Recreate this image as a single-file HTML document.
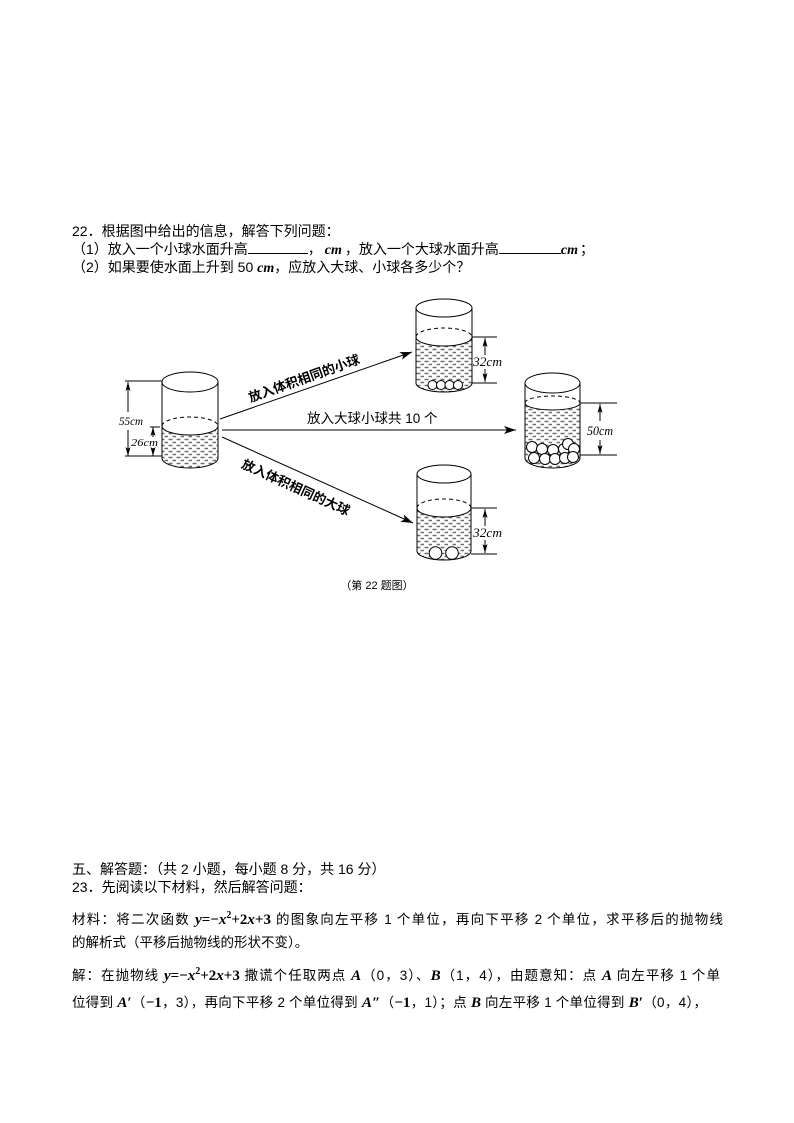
<!DOCTYPE html>
<html><head><meta charset="utf-8">
<style>
html,body{margin:0;padding:0;background:#fff;}
body{width:794px;height:1123px;position:relative;overflow:hidden;font-family:"Liberation Sans","Noto Sans CJK SC",sans-serif;color:#000;}
.t{position:absolute;left:72px;font-size:14px;line-height:18px;white-space:nowrap;}
.j{position:absolute;left:72px;font-size:13.5px;line-height:18px;white-space:normal;text-align:justify;text-align-last:justify;}
.m{font-family:"Liberation Serif",serif;font-weight:bold;font-size:15px;}
.m i{font-style:italic;}
.cm{font-family:"Liberation Serif",serif;font-weight:bold;font-style:italic;font-size:14px;}
.u{display:inline-block;border-bottom:1px solid #000;height:12px;vertical-align:baseline;}
</style></head><body>

<div class="t" style="top:222px">22．根据图中给出的信息，解答下列问题：</div>
<div class="t" style="top:240px">（1）放入一个小球水面升高<span class="u" style="width:60px"></span>，<span class="cm" style="margin:0 3px">cm</span>，放入一个大球水面升高<span class="u" style="width:62px"></span><span class="cm" style="margin-right:2px">cm</span>；</div>
<div class="t" style="top:258px">（2）如果要使水面上升到 50 <span class="cm">cm</span>，应放入大球、小球各多少个？</div>

<svg width="794" height="1123" style="position:absolute;left:0;top:0" xmlns="http://www.w3.org/2000/svg">
<defs>
<pattern id="w" width="8" height="6" patternUnits="userSpaceOnUse"><path d="M0.5 1.5h4M4.5 4.5h4" stroke="#707070" stroke-width="1.4"/></pattern>
<marker id="ar" markerWidth="12" markerHeight="8" refX="12" refY="4" orient="auto" markerUnits="userSpaceOnUse"><path d="M0,0 L12,4 L0,8 L3,4Z" fill="#000"/></marker>
<marker id="sa" markerWidth="9" markerHeight="6" refX="9" refY="3" orient="auto" markerUnits="userSpaceOnUse"><path d="M0,0.5 L9,3 L0,5.5 L2,3Z" fill="#000"/></marker>
</defs>
<g fill="none" stroke="#000" stroke-width="1">
<!-- left cylinder -->
<path d="M162,426 A28,9 0 0 0 218,426 L218,458 A28,10 0 0 1 162,458 Z" fill="url(#w)" stroke="none"/>
<ellipse cx="190" cy="382" rx="28" ry="10"/>
<path d="M162,382 V458 M218,382 V458"/>
<path d="M162,458 A28,10 0 0 0 218,458"/>
<path d="M162,426 A28,9 0 0 1 218,426" stroke-dasharray="4,3"/>
<path d="M162,426 A28,9 0 0 0 218,426"/>
<!-- 55cm dim -->
<path d="M125,381 H162 M125,456 H162 M150,427 H160"/>
<path d="M128,412 V382" marker-end="url(#sa)"/>
<path d="M128,430 V456" marker-end="url(#sa)"/>
<path d="M153,437 V427" marker-end="url(#sa)"/>
<path d="M153,448 V456" marker-end="url(#sa)"/>

<!-- top right cylinder -->
<path d="M416,337 A28,9 0 0 0 472,337 L472,383 A28,9 0 0 1 416,383 Z" fill="url(#w)" stroke="none"/>
<ellipse cx="444" cy="308" rx="28" ry="9"/>
<path d="M416,308 V383 M472,308 V383"/>
<path d="M416,383 A28,9 0 0 0 472,383"/>
<path d="M416,337 A28,9 0 0 1 472,337" stroke-dasharray="4,3"/>
<path d="M416,337 A28,9 0 0 0 472,337"/>
<g fill="#fff"><circle cx="432.5" cy="385" r="4.5"/><circle cx="441" cy="385" r="4.5"/><circle cx="449.5" cy="385" r="4.5"/><circle cx="458" cy="385" r="4.5"/></g>
<path d="M472,337 H497 M472,383 H497"/>
<path d="M485,355 V338" marker-end="url(#sa)"/>
<path d="M485,369 V382" marker-end="url(#sa)"/>

<!-- bottom right cylinder -->
<path d="M417,508 A27,9 0 0 0 471,508 L471,551 A27,9 0 0 1 417,551 Z" fill="url(#w)" stroke="none"/>
<ellipse cx="444" cy="474" rx="27" ry="9"/>
<path d="M417,474 V551 M471,474 V551"/>
<path d="M417,551 A27,9 0 0 0 471,551"/>
<path d="M417,508 A27,9 0 0 1 471,508" stroke-dasharray="4,3"/>
<path d="M417,508 A27,9 0 0 0 471,508"/>
<g fill="#fff"><circle cx="435.5" cy="553" r="6.3"/><circle cx="452" cy="553" r="6.3"/></g>
<path d="M471,508 H497 M471,554 H497"/>
<path d="M485,526 V509" marker-end="url(#sa)"/>
<path d="M485,540 V553" marker-end="url(#sa)"/>

<!-- right cylinder -->
<path d="M525,403 A27.5,7 0 0 0 580,403 L580,458 A27.5,10 0 0 1 525,458 Z" fill="url(#w)" stroke="none"/>
<ellipse cx="552.5" cy="383" rx="27.5" ry="10"/>
<path d="M525,383 V458 M580,383 V458"/>
<path d="M525,458 A27.5,10 0 0 0 580,458"/>
<path d="M525,403 A27.5,7 0 0 1 580,403" stroke-dasharray="4,3"/>
<path d="M525,403 A27.5,7 0 0 0 580,403"/>
<g fill="#fff">
<circle cx="532" cy="447" r="5.5"/><circle cx="542" cy="449" r="5.5"/><circle cx="553" cy="450" r="5.5"/><circle cx="564" cy="449" r="5.5"/><circle cx="568" cy="444" r="5.5"/><circle cx="574" cy="449" r="5.5"/>
<circle cx="534" cy="458" r="5.5"/><circle cx="545" cy="459" r="5.5"/><circle cx="555" cy="459" r="5.5"/><circle cx="565" cy="458" r="5.5"/><circle cx="573" cy="457" r="5.5"/>
</g>
<path d="M580,403 H617 M580,455 H617"/>
<path d="M600,421 V404" marker-end="url(#sa)"/>
<path d="M600,440 V454" marker-end="url(#sa)"/>

<!-- main arrows -->
<path d="M220,419 L412,352" marker-end="url(#ar)"/>
<path d="M222,430 L516,430" marker-end="url(#ar)"/>
<path d="M222,437 L413,523" marker-end="url(#ar)"/>
</g>

<g font-family="Liberation Serif, serif" font-style="italic" fill="#000">
<text x="119" y="425" font-size="12" textLength="24" lengthAdjust="spacingAndGlyphs">55cm</text>
<text x="131" y="446" font-size="10" textLength="27" lengthAdjust="spacingAndGlyphs">26cm</text>
<text x="473" y="366" font-size="12.5" textLength="29" lengthAdjust="spacingAndGlyphs">32cm</text>
<text x="473" y="537" font-size="12.5" textLength="29" lengthAdjust="spacingAndGlyphs">32cm</text>
<text x="587" y="435" font-size="12.5" textLength="26" lengthAdjust="spacingAndGlyphs">50cm</text>
</g>

<g font-family="Liberation Sans, Noto Sans CJK SC, sans-serif" fill="#000">
<text x="307" y="423" font-size="13.5">放入大球小球共 10 个</text>
<g transform="translate(304,378) rotate(-19.5)"><text x="0" y="5" font-size="13" font-weight="bold" text-anchor="middle">放入体积相同的小球</text></g>
<g transform="translate(296,487) rotate(24.4)"><text x="0" y="5" font-size="13" font-weight="bold" text-anchor="middle">放入体积相同的大球</text></g>
<text x="377" y="589" font-size="11" text-anchor="middle">（第 22 题图）</text>
</g>
</svg>

<div class="t" style="top:860px">五、解答题：（共 2 小题，每小题 8 分，共 16 分）</div>
<div class="t" style="top:878px">23．先阅读以下材料，然后解答问题：</div>
<div class="j" style="top:907px;width:651px">材料：将二次函数 <span class="m"><i>y</i>=−<i>x</i><sup style="font-size:10px">2</sup>+2<i>x</i>+3</span> 的图象向左平移 1 个单位，再向下平移 2 个单位，求平移后的抛物线</div>
<div class="t" style="top:934px;font-size:13.5px">的解析式（平移后抛物线的形状不变）。</div>
<div class="j" style="top:963px;width:648px">解：在抛物线 <span class="m"><i>y</i>=−<i>x</i><sup style="font-size:10px">2</sup>+2<i>x</i>+3</span> 撒谎个任取两点 <span class="m"><i>A</i></span>（0，3）、<span class="m"><i>B</i></span>（1，4），由题意知：点 <span class="m"><i>A</i></span> 向左平移 1 个单</div>
<div class="j" style="top:994px;width:635px">位得到 <span class="m"><i>A</i>′</span>（<span class="m">−1</span>，3），再向下平移 2 个单位得到 <span class="m"><i>A</i>″</span>（<span class="m">−1</span>，1）；点 <span class="m"><i>B</i></span> 向左平移 1 个单位得到 <span class="m"><i>B</i>′</span>（0，4），</div>

</body></html>
